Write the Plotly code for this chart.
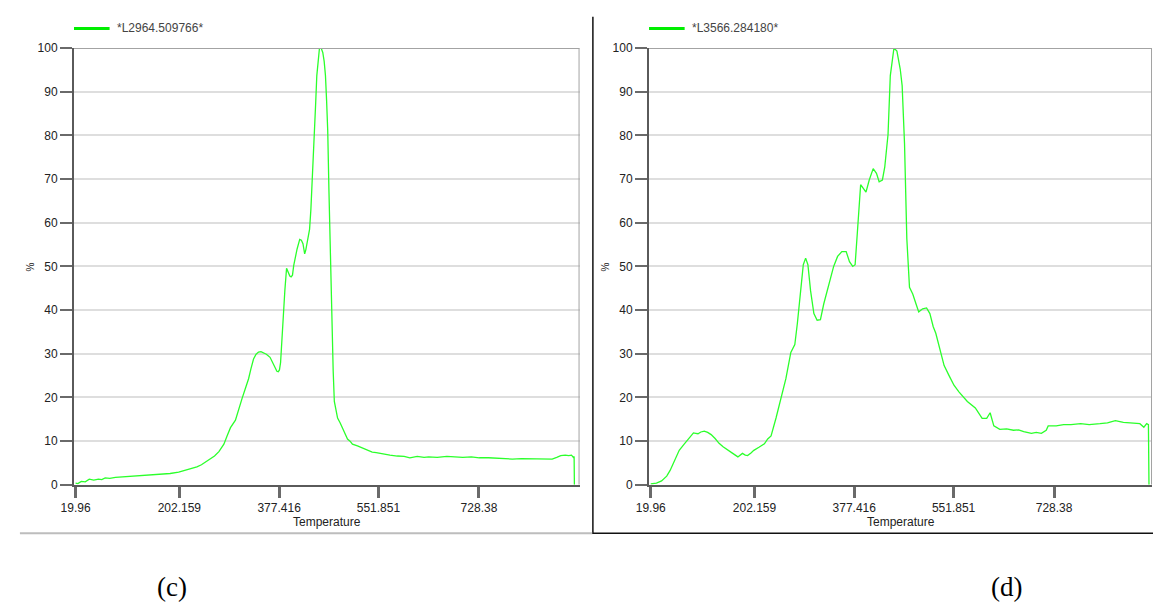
import plotly.graph_objects as go

# ---- data: panel (c) ----
temp_c = [19.96, 24, 30, 37, 44, 52, 60, 66, 72, 80, 90, 100, 114, 127, 140, 155, 171, 186, 201, 212,
          224, 233, 241, 249, 257, 264, 271.7, 280.4, 286, 292, 300.7, 306, 312.4, 318, 323.8, 328,
          332.5, 337, 341.2, 345.5, 349.9, 355, 361.5, 366, 370.2, 373.5, 376, 378, 380, 382.3, 384.6,
          387.5, 390.5, 393.5, 396.2, 398.5, 400.9, 403, 404.9, 409, 413.6, 416.5, 419.3, 422.3, 424.3,
          426.3, 428.5, 430.9, 433.2, 435.6, 437.5, 439.6, 441.5, 443.6, 446, 448.3, 451.2, 454.1,
          456.5, 458.8, 460.8, 462.8, 464.8, 466.9, 468.6, 470.4, 472.4, 474.4, 477.2, 480.1, 484.5,
          488.8, 493, 497.5, 502, 506.2, 515, 523.5, 532, 540.9, 548, 555, 564, 572, 585, 597, 607,
          620, 632, 640, 655, 672, 686, 700, 715, 729, 745, 760, 773, 787, 803, 820, 838, 857, 865,
          872, 880, 886, 891, 894, 895.5, 896]
pct_c = [0.4, 0.3, 0.8, 0.7, 1.3, 1.1, 1.3, 1.2, 1.6, 1.5, 1.7, 1.8, 1.85, 1.9, 2.1, 2.2, 2.4, 2.6, 2.9, 3.3,
         3.7, 4.1, 4.6, 5.3, 5.8, 6.6, 7.6, 9.3, 11.2, 13.1, 14.8, 17.2, 19.8, 22.0, 24.3, 26.6,
         28.8, 29.9, 30.4, 30.5, 30.2, 29.9, 29.2, 28.1, 26.8, 26.0, 25.9, 26.3, 28.0, 33.5, 39.3,
         44.5, 49.6, 48.6, 47.8, 47.6, 48.0, 50.2, 51.6, 54.0, 56.2, 56.0, 55.2, 52.9, 53.8,
         55.5, 57.2, 58.5, 63.0, 69.0, 74.5, 80.2, 87.0, 93.7, 97.8, 100, 100, 99.0,
         97.0, 93.7, 88.0, 81.0, 68.0, 54.0, 44.0, 35.5, 26.0, 19.1, 16.8, 15.3, 14.2,
         13.1, 11.8, 10.5, 10.0, 9.3, 8.9, 8.5, 8.1, 7.5, 7.4, 7.2, 6.9, 6.8, 6.6, 6.5, 6.2,
         6.5, 6.3, 6.4, 6.3, 6.5, 6.4, 6.3, 6.4, 6.2, 6.2, 6.1, 6.0, 5.9, 6.0, 6.0, 5.9, 5.9, 6.3,
         6.7, 6.8, 6.7, 6.8, 6.3, 6.5, 0]

# ---- data: panel (d) ----
temp_d = [19.96, 24, 30, 39, 44, 48, 54, 60, 65, 70, 78, 86, 90, 95, 99, 103, 108, 114, 120, 126, 133,
          140, 147, 155, 164, 173, 177, 181, 186, 190, 196, 201, 210, 219.6, 225.4, 231.3, 240, 248.6,
          257.3, 266, 273, 277.5, 283.3, 287.9, 292, 296, 300.7, 306.5, 312.2, 318, 323.8, 332.5,
          341.2, 348.1, 355.6, 363.2, 369, 374.7, 378.9, 382.9, 388.6, 393.3, 398, 403.7, 410.6,
          416.4, 421.1, 426.8, 431, 436.7, 440.7, 447.1, 452.3, 458.1, 461.5, 465.7, 469.7, 474.4,
          480.1, 485.9, 490.6, 497.5, 504.4, 510.2, 516.1, 520.6, 526.5, 535.2, 543.9, 552.5, 561.2,
          568, 576, 590, 598, 602, 610, 616, 622.5, 633, 645, 657, 666, 675, 688.5, 697, 706, 714.5,
          718, 732, 745, 758, 775, 790, 809, 822, 836, 850, 862, 879, 886, 891, 894, 895]
pct_d = [0.2, 0.3, 0.4, 0.9, 1.4, 2.0, 3.3, 4.9, 6.4, 7.9, 9.2, 10.4, 11.2, 11.9, 11.8, 11.7, 12.1, 12.3,
         12.0, 11.5, 10.6, 9.5, 8.7, 7.9, 7.2, 6.4, 6.8, 7.2, 6.8, 6.7, 7.3, 7.9, 8.6, 9.4, 10.5, 11.2,
         15.3, 19.8, 24.3, 30.3, 32.1, 37.0, 44.4, 50.4, 51.9, 50.4, 44.4, 39.2, 37.7, 37.8, 41.4,
         45.5, 50.0, 52.3, 53.4, 53.4, 51.1, 50.0, 50.4, 57.9, 68.7, 67.9, 67.0, 69.8, 72.4, 71.3,
         69.4, 69.8, 72.8, 80.2, 93.7, 100, 99.3, 95.2, 91.4, 78.0, 56.4, 45.2, 43.7, 41.4, 39.6,
         40.3, 40.5, 39.2, 36.2, 34.7, 31.7, 27.3, 25.0, 22.8, 21.3, 20.3, 19.1, 17.6, 16.0, 15.2,
         15.2, 16.5, 13.5, 12.7, 12.8, 12.5, 12.6, 12.2, 11.8, 12.0, 11.8, 12.5, 13.5, 13.5, 13.8,
         13.8, 14.0, 13.8, 14.0, 14.2, 14.7, 14.3, 14.2, 14.0, 13.2, 14.0, 13.8, 0]

tick_vals = [19.96, 202.159, 377.416, 551.851, 728.38]
tick_text = ["19.96", "202.159", "377.416", "551.851", "728.38"]
series_names = ["*L2964.509766*", "*L3566.284180*"]
panel_labels = ["(c)", "(d)"]

W, H = 1153, 614
LINE_GREEN = "#2bff2b"
FONT = "Liberation Sans, Arial, sans-serif"


def px(x):
    return x / W


def py(y):
    return 1 - y / H


# plot-area geometry (pixels)
left_dom = (61.7, 573)
right_dom = (643.3, 1152)
y_top, y_bot = 42, 489
left_range = [17.2, 17.2 + (left_dom[1] - left_dom[0]) / 0.5759]
right_range = [17.0, 17.0 + (right_dom[1] - right_dom[0]) / 0.5759]

fig = go.Figure()
fig.add_trace(go.Scatter(x=temp_c, y=pct_c, xaxis="x", yaxis="y", mode="lines",
                         line=dict(color=LINE_GREEN, width=1.3), showlegend=False))
fig.add_trace(go.Scatter(x=temp_d, y=pct_d, xaxis="x2", yaxis="y2", mode="lines",
                         line=dict(color=LINE_GREEN, width=1.3), showlegend=False))

xaxis_style = dict(
    tickmode="array", tickvals=tick_vals, ticktext=tick_text,
    ticks="outside", ticklen=11, tickwidth=2.5, tickcolor="#6a6a6a",
    showline=True, linecolor="#5a5a5a", linewidth=2,
    showgrid=False, zeroline=False,
    tickfont=dict(family=FONT, size=12, color="#222"),
)
yaxis_style = dict(
    range=[0, 100], dtick=10, tick0=0,
    ticks="outside", ticklen=12, tickwidth=1.5, tickcolor="#6a6a6a",
    showline=True, linecolor="#5a5a5a", linewidth=2,
    showgrid=True, gridcolor="#dedede", gridwidth=2, zeroline=False,
    tickfont=dict(family=FONT, size=12, color="#222"),
)

fig.update_layout(
    width=W, height=H,
    margin=dict(l=0, r=0, t=0, b=0),
    paper_bgcolor="white", plot_bgcolor="white",
    xaxis=dict(domain=[px(left_dom[0]), px(left_dom[1])], range=left_range, anchor="y", **xaxis_style),
    yaxis=dict(domain=[py(y_bot), py(y_top)], anchor="x", **yaxis_style),
    xaxis2=dict(domain=[px(right_dom[0]), px(right_dom[1])], range=right_range, anchor="y2", **xaxis_style),
    yaxis2=dict(domain=[py(y_bot), py(y_top)], anchor="x2", **yaxis_style),
)

shapes = []
annotations = []
for i, (xr, yr, rng, dom) in enumerate([("x", "y", left_range, left_dom), ("x2", "y2", right_range, right_dom)]):
    # top and right frame of each plot
    shapes.append(dict(type="line", xref=xr, yref=yr, x0=rng[0], x1=rng[1], y0=100, y1=100,
                       line=dict(color="#a3a3a3", width=2)))
    shapes.append(dict(type="line", xref=xr, yref=yr, x0=rng[1], x1=rng[1], y0=0, y1=100,
                       line=dict(color="#a3a3a3", width=2)))
    # legend entry
    lx = dom[0]
    shapes.append(dict(type="line", xref="paper", yref="paper", x0=px(lx), x1=px(lx + 36),
                       y0=py(22), y1=py(22), line=dict(color="#00ee00", width=3)))
    annotations.append(dict(x=px(lx + 41), y=py(22), xref="paper", yref="paper", text=series_names[i],
                            showarrow=False, xanchor="left", yanchor="middle",
                            font=dict(family=FONT, size=12, color="#444")))
    # axis titles
    annotations.append(dict(x=px((dom[0] + dom[1]) / 2), y=py(527), xref="paper", yref="paper",
                            text="Temperature", showarrow=False, xanchor="center", yanchor="middle",
                            font=dict(family=FONT, size=12, color="#222")))
    annotations.append(dict(x=px(dom[0] - 44), y=py(266), xref="paper", yref="paper",
                            text="%", textangle=-90, showarrow=False, xanchor="center", yanchor="middle",
                            font=dict(family=FONT, size=10, color="#222")))

# panel captions
for label, cx in zip(panel_labels, [161, 1005]):
    annotations.append(dict(x=px(cx), y=py(594), xref="paper", yref="paper", text=label,
                            showarrow=False, xanchor="center", yanchor="middle",
                            font=dict(family="Liberation Serif, Times New Roman, serif", size=27, color="#000")))

# frame lines separating the two panels
shapes.append(dict(type="line", xref="paper", yref="paper", x0=px(586.5), x1=px(586.5),
                   y0=py(10), y1=py(539), line=dict(color="#111", width=1.5)))
shapes.append(dict(type="line", xref="paper", yref="paper", x0=px(7), x1=px(586),
                   y0=py(538.5), y1=py(538.5), line=dict(color="#bdbdbd", width=2)))
shapes.append(dict(type="line", xref="paper", yref="paper", x0=px(586), x1=1,
                   y0=py(538.5), y1=py(538.5), line=dict(color="#111", width=1.5)))

fig.update_layout(shapes=shapes, annotations=annotations)
fig.write_html("out.html")
